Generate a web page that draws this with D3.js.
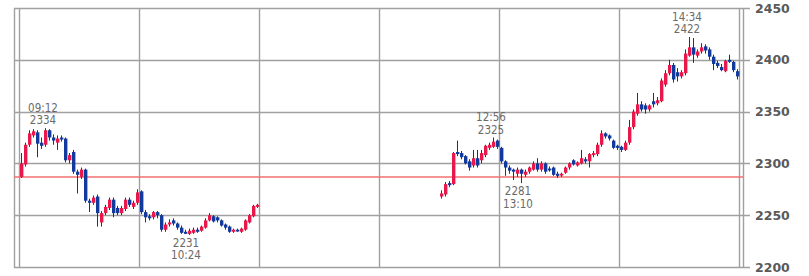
<!DOCTYPE html>
<html>
<head>
<meta charset="utf-8">
<script src="https://cdn.jsdelivr.net/npm/d3@7"></script>
<style>
  body { margin: 0; background: #fff; }
  svg { display: block; }
</style>
</head>
<body>
<script>
'use strict';

// 2-minute bars, morning session 09:00-11:00
const amOpen  = [2287,2299,2318,2327,2330,2320,2318,2332,2325,2320,2325,2324,2303,2311,2292,2287,2294,2264,2262,2268,
                 2243,2252,2257,2265,2257,2252,2256,2265,2258,2262,2273,2253,2249,2248,2253,2250,2236,2241,2245,2242,
                 2238,2234,2232,2233,2236,2235,2238,2245,2249,2248,2245,2241,2239,2234,2236,2234,2236,2243,2249,2258];
const amHigh  = [2310,2320,2332,2333,2332,2325,2334,2333,2328,2327,2327,2325,2310,2313,2294,2296,2295,2266,2269,2270,
                 2254,2260,2267,2267,2259,2259,2267,2267,2264,2275,2274,2255,2251,2254,2254,2251,2243,2246,2247,2243,
                 2240,2236,2237,2238,2238,2240,2247,2252,2250,2249,2246,2242,2240,2237,2237,2238,2246,2251,2260,2261];
const amLow   = [2286,2297,2316,2325,2306,2314,2316,2322,2318,2313,2321,2301,2300,2290,2271,2285,2262,2253,2260,2239,
                 2239,2250,2255,2248,2250,2250,2254,2258,2256,2260,2251,2243,2245,2246,2247,2234,2234,2239,2240,2236,
                 2232,2232,2231,2232,2233,2234,2237,2244,2243,2243,2239,2236,2233,2233,2234,2233,2235,2242,2248,2257];
const amClose = [2300,2318,2329,2331,2319,2317,2332,2325,2322,2324,2323,2303,2308,2292,2289,2294,2264,2262,2267,2252,
                 2252,2258,2265,2252,2252,2257,2265,2260,2262,2272,2253,2248,2247,2253,2250,2236,2241,2243,2242,2238,
                 2233,2232,2235,2236,2234,2239,2245,2250,2244,2245,2240,2238,2234,2236,2235,2237,2245,2250,2259,2260];

// 2-minute bars, afternoon session 12:30-15:00
const pmOpen  = [2268,2270,2281,2280,2311,2310,2307,2302,2298,2305,2303,2308,2315,2316,2322,2315,2302,2296,2294,2290,
                 2294,2289,2292,2294,2300,2294,2300,2295,2296,2290,2289,2291,2296,2303,2298,2300,2304,2302,2308,2309,
                 2318,2329,2327,2322,2317,2316,2313,2320,2335,2348,2357,2356,2352,2360,2358,2360,2376,2387,2395,2388,
                 2384,2387,2404,2412,2404,2408,2413,2410,2403,2397,2393,2389,2400,2398,2389];
const pmHigh  = [2274,2282,2283,2311,2322,2312,2308,2304,2313,2313,2313,2318,2320,2325,2323,2316,2303,2298,2295,2296,
                 2295,2294,2297,2302,2305,2302,2301,2297,2297,2292,2291,2297,2301,2304,2302,2313,2306,2310,2312,2320,
                 2332,2330,2328,2323,2318,2317,2322,2342,2352,2368,2360,2358,2357,2368,2364,2382,2390,2400,2397,2392,
                 2390,2410,2422,2421,2410,2416,2415,2412,2405,2399,2396,2400,2405,2399,2391];
const pmLow   = [2266,2268,2277,2279,2307,2304,2299,2293,2296,2296,2300,2306,2313,2315,2314,2300,2288,2290,2284,2287,
                 2281,2287,2290,2293,2292,2292,2290,2292,2288,2286,2287,2290,2294,2298,2297,2299,2300,2296,2306,2307,
                 2316,2324,2322,2314,2313,2311,2312,2318,2333,2346,2350,2348,2350,2354,2356,2359,2374,2385,2378,2379,
                 2382,2385,2403,2397,2402,2406,2406,2400,2390,2392,2389,2388,2397,2388,2381];
const pmClose = [2271,2280,2279,2310,2309,2306,2300,2296,2305,2298,2310,2317,2318,2321,2316,2302,2296,2293,2292,2294,
                 2290,2292,2296,2300,2294,2300,2292,2294,2289,2288,2290,2296,2300,2299,2301,2305,2302,2309,2310,2318,
                 2329,2326,2324,2315,2315,2313,2320,2335,2350,2357,2352,2352,2356,2357,2361,2380,2387,2395,2381,2384,
                 2388,2406,2412,2405,2408,2412,2409,2403,2396,2394,2390,2399,2398,2390,2384];

const sessionStarts = ['09:00', '12:30'];
const barMinutes = 2;
const prevClose = 2287;

const hourTicks = ['09:00','10:00','11:00','12:00','13:00','14:00','15:00'];
const priceTicks = [2200, 2250, 2300, 2350, 2400, 2450];

const highLabels = [
  { time: '09:12', value: 2334 },
  { time: '12:56', value: 2325 },
  { time: '14:34', value: 2422 }
];
const lowLabels = [
  { time: '10:24', value: 2231 },
  { time: '13:10', value: 2281 }
];

const width = 809, height = 276;
const frame = { left: 14, right: 743, top: 8, bottom: 267 };

const toMin = s => { const [h, m] = s.split(':').map(Number); return h * 60 + m; };

const x = d3.scaleLinear().domain([toMin('09:00'), toMin('15:00')]).range([19, 739]);
const y = d3.scaleLinear().domain([2200, 2450]).range([frame.bottom, frame.top]);

const sessions = [
  { start: sessionStarts[0], o: amOpen, h: amHigh, l: amLow, c: amClose },
  { start: sessionStarts[1], o: pmOpen, h: pmHigh, l: pmLow, c: pmClose }
];
const bars = sessions.flatMap(s => s.o.map((o, i) => ({
  t: toMin(s.start) + i * barMinutes,
  open: o, high: s.h[i], low: s.l[i], close: s.c[i]
})));

const svg = d3.select('body').append('svg')
  .attr('width', width)
  .attr('height', height);

const gridColor = '#a0a0a0';
const crisp = v => Math.round(v) + 0.5;

// horizontal grid + outer ticks
svg.append('g')
  .selectAll('line')
  .data(priceTicks)
  .join('line')
    .attr('x1', frame.left)
    .attr('x2', frame.right + 7)
    .attr('y1', d => crisp(y(d)))
    .attr('y2', d => crisp(y(d)))
    .attr('stroke', gridColor)
    .attr('stroke-width', 1.4);

// vertical grid
svg.append('g')
  .selectAll('line')
  .data(hourTicks)
  .join('line')
    .attr('x1', d => crisp(x(toMin(d))))
    .attr('x2', d => crisp(x(toMin(d))))
    .attr('y1', frame.top)
    .attr('y2', frame.bottom)
    .attr('stroke', gridColor)
    .attr('stroke-width', 1.4);

// frame sides
svg.append('g')
  .selectAll('line')
  .data([frame.left, frame.right])
  .join('line')
    .attr('x1', d => d + 0.5)
    .attr('x2', d => d + 0.5)
    .attr('y1', frame.top)
    .attr('y2', frame.bottom + 1)
    .attr('stroke', gridColor)
    .attr('stroke-width', 1.4);

// price axis labels
const axis = d3.axisRight(y)
  .tickValues(priceTicks)
  .tickFormat(d3.format('d'))
  .tickSize(0)
  .tickPadding(12);
const ax = svg.append('g')
  .attr('transform', `translate(${frame.right},0)`)
  .call(axis);
ax.select('.domain').remove();
ax.selectAll('text')
  .attr('font-family', 'DejaVu Sans, Verdana, sans-serif')
  .attr('font-weight', 'bold')
  .attr('font-size', 12.5)
  .attr('fill', '#5a5a5a');

// previous close
svg.append('line')
  .attr('x1', frame.left)
  .attr('x2', frame.right)
  .attr('y1', Math.round(y(prevClose)))
  .attr('y2', Math.round(y(prevClose)))
  .attr('stroke', '#f37070')
  .attr('stroke-width', 1.3);

// candles
const up = '#e8194a', down = '#123a9c';
const cx = d => Math.round(x(d.t + barMinutes / 2));

const candles = svg.append('g');
candles.selectAll('line')
  .data(bars)
  .join('line')
    .attr('x1', d => cx(d) + 0.5)
    .attr('x2', d => cx(d) + 0.5)
    .attr('y1', d => y(d.high))
    .attr('y2', d => y(d.low))
    .attr('stroke', '#333')
    .attr('stroke-width', 1);

candles.selectAll('rect')
  .data(bars)
  .join('rect')
    .attr('x', d => cx(d) - 1)
    .attr('width', 3.4)
    .attr('y', d => y(Math.max(d.open, d.close)))
    .attr('height', d => Math.max(1.8, Math.abs(y(d.open) - y(d.close))))
    .attr('fill', d => d.close >= d.open ? up : down);

// high / low annotations
const labelFont = 'DejaVu Sans Condensed, Liberation Sans Narrow, Arial, sans-serif';
const ann = svg.append('g')
  .attr('font-family', labelFont)
  .attr('font-size', 11.5)
  .attr('fill', '#6a6a6a')
  .attr('text-anchor', 'middle');

highLabels.forEach(d => {
  const px = x(toMin(d.time) + barMinutes / 2) - 2;
  const py = y(d.value);
  ann.append('text').attr('x', px).attr('y', py - 16.5).text(d.time);
  ann.append('text').attr('x', px).attr('y', py - 4).text(d.value);
});
lowLabels.forEach(d => {
  const px = x(toMin(d.time) + barMinutes / 2) - 3;
  const py = y(d.value);
  ann.append('text').attr('x', px).attr('y', py + 12).text(d.value);
  ann.append('text').attr('x', px).attr('y', py + 24.5).text(d.time);
});
</script>
</body>
</html>
